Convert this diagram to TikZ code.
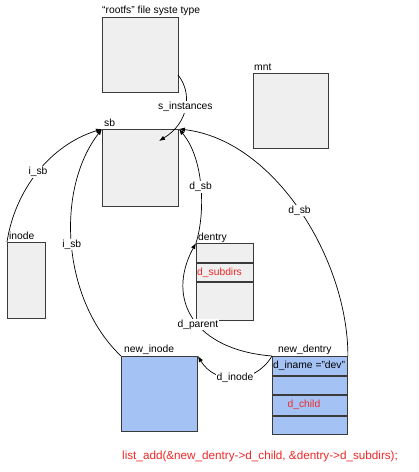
\documentclass[tikz,border=0pt]{standalone}
\usepackage{fontspec}
\setmainfont{Liberation Sans}
\usetikzlibrary{arrows.meta,calc}
\definecolor{boxfill}{HTML}{EFEFEF}
\definecolor{boxdraw}{HTML}{3A3A3A}
\definecolor{bluefill}{HTML}{A4C2F4}
\definecolor{codered}{HTML}{F02828}
\begin{document}
\begin{tikzpicture}[x=1pt,y=-1pt,
  every node/.style={font=\fontsize{10.3}{12}\selectfont},
  box/.style={draw=boxdraw, fill=boxfill, line width=0.9pt, inner sep=0pt, anchor=north west},
  bbox/.style={box, fill=bluefill},
  title/.style={anchor=base west, inner sep=0pt},
  redtxt/.style={text=codered, inner sep=0pt},
  conn/.style={draw=black, line width=0.7pt, -{Latex[length=6pt,width=4.5pt]}},
  lbl/.style={fill=white, inner sep=1pt}
]
\useasboundingbox (0,0) rectangle (419,472);
\fill[white] (0,0) rectangle (419,472);

% boxes
\node[box, minimum width=76pt, minimum height=75pt] (rootfs) at (102,17) {};
\node[box, minimum width=76pt, minimum height=77pt] (sb) at (102,129) {};
\node[box, minimum width=75pt, minimum height=75pt] (mnt) at (253,73) {};
\node[box, minimum width=38pt, minimum height=76pt] (inode) at (7,242) {};

\node[box, minimum width=57pt, minimum height=19pt] (dentry) at (196,243) {};
\node[box, minimum width=57pt, minimum height=18pt] (dsub) at (dentry.south west) {};
\node[box, minimum width=57pt, minimum height=38pt] (dbot) at (dsub.south west) {};

\node[bbox, minimum width=76pt, minimum height=75pt] (newi) at (121,356) {};

\node[bbox, minimum width=75pt, minimum height=19pt] (newd) at (272,356) {};
\node[bbox, minimum width=75pt, minimum height=18pt] (newd2) at (newd.south west) {};
\node[bbox, minimum width=75pt, minimum height=20pt] (newd3) at (newd2.south west) {};
\node[bbox, minimum width=75pt, minimum height=18pt] (newd4) at (newd3.south west) {};

% texts inside boxes
\node[redtxt, anchor=west] (dsubtxt) at ([xshift=1pt]dsub.west) {d\_subdirs};
\node[anchor=west, inner sep=0pt] (dinametxt) at ([xshift=1pt]newd.west) {d\_iname ="dev"};
\node[redtxt] (dchildtxt) at ([xshift=-6pt]newd3.center) {d\_child};

% titles
\node[title] (rootfslbl) at (102,13) {“rootfs” file syste type};
\node[title] (sblbl) at (104,126) {sb};
\node[title] (mntlbl) at (254,70) {mnt};
\node[title] (inodelbl) at (9,239) {inode};
\node[title] (dentrylbl) at (198,240) {dentry};
\node[title] (newilbl) at (124,352) {new\_inode};
\node[title] (newdlbl) at (278,352) {new\_dentry};

% free ends
\coordinate (sinst) at (178,75);
\coordinate (sbin) at (159,141);

% connectors
\draw[conn] (sinst) .. controls (192,92) and (190,122) .. node[lbl] {s\_instances} (sbin);
\draw[conn] (inode.north west) .. controls (15,190) and (50,145) .. node[lbl, pos=0.5] {i\_sb} (sb.north west);
\draw[conn] (newi.north west) .. controls (62,300) and (55,190) .. node[lbl, pos=0.5] {i\_sb} (sb.north west);
\draw[conn] (dentry.north west) .. controls (205,215) and (205,160) .. node[lbl, pos=0.5] {d\_sb} (sb.north east);
\draw[conn] (newd.north east) .. controls (348,260) and (275,140) .. node[lbl, pos=0.5] {d\_sb} (sb.north east);
\draw[conn] (newd.north west) .. controls (195,350) and (165,300) .. node[lbl, pos=0.45] {d\_parent} (dentry.north west);
\draw[conn] (newd.north west) .. controls (255,385) and (215,385) .. node[lbl, pos=0.5] {d\_inode} (newi.north east);

% code line
\node[anchor=base west, inner sep=0pt, text=codered, font=\fontsize{11.7}{14}\selectfont] (code) at (122,459) {list\_add(\&new\_dentry->d\_child, \&dentry->d\_subdirs);};
\end{tikzpicture}
\end{document}
